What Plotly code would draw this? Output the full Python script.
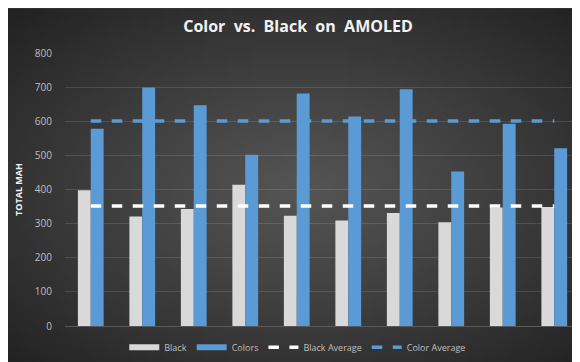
import base64
import struct
import zlib

import numpy as np
import plotly.graph_objects as go

categories = ["1", "2", "3", "4", "5", "6", "7", "8", "9", "10"]
black = [398, 321, 343, 414, 323, 309, 331, 304, 347, 349]
colors = [578, 699, 647, 502, 681, 614, 694, 453, 593, 521]
black_avg = [352] * len(categories)
color_avg = [601] * len(categories)
y_ticks = [0, 100, 200, 300, 400, 500, 600, 700, 800]


def radial_png(w, h, inner, outer):
    yy, xx = np.mgrid[0:h, 0:w]
    dx = (xx - w * 0.5) / (w * 0.5)
    dy = (yy - h * 0.5) / (h * 0.5)
    d = np.clip(np.sqrt(dx ** 2 + dy ** 2) / np.sqrt(2), 0, 1)
    v = (inner - (inner - outer) * d ** 1.1).astype(np.uint8)
    raw = b"".join(b"\x00" + bytes(np.stack([row, row, row], axis=1).flatten()) for row in v)

    def chunk(tag, data):
        c = struct.pack(">I", len(data)) + tag + data
        return c + struct.pack(">I", zlib.crc32(tag + data) & 0xFFFFFFFF)

    png = (b"\x89PNG\r\n\x1a\n" + chunk(b"IHDR", struct.pack(">IIBBBBB", w, h, 8, 2, 0, 0, 0))
           + chunk(b"IDAT", zlib.compress(raw, 9)) + chunk(b"IEND", b""))
    return "data:image/png;base64," + base64.b64encode(png).decode()


bg = radial_png(116, 72, 0x55, 0x22)

fig = go.Figure()
fig.add_trace(go.Bar(name="Black", x=categories, y=black, marker_color="#d9d9d9",
                     marker_line_width=0, showlegend=False))
fig.add_trace(go.Bar(name="Colors", x=categories, y=colors, marker_color="#5b9bd5",
                     marker_line_width=0, showlegend=False))
fig.add_trace(go.Scatter(name="Black Average", x=categories, y=black_avg, mode="lines",
                         line=dict(color="#ffffff", width=3.5, dash="dash"), showlegend=False))
fig.add_trace(go.Scatter(name="Color Average", x=categories, y=color_avg, mode="lines",
                         line=dict(color="#5b9bd5", width=3.5, dash="dash"), showlegend=False))
# legend entries
fig.add_trace(go.Scatter(name="Black", x=[None], y=[None], mode="lines",
                         line=dict(color="#d9d9d9", width=6)))
fig.add_trace(go.Scatter(name="Colors", x=[None], y=[None], mode="lines",
                         line=dict(color="#5b9bd5", width=6)))
fig.add_trace(go.Scatter(name="Black Average", x=[None], y=[None], mode="lines",
                         line=dict(color="#ffffff", width=3.5, dash="dash")))
fig.add_trace(go.Scatter(name="Color Average", x=[None], y=[None], mode="lines",
                         line=dict(color="#5b9bd5", width=3.5, dash="dash")))

fig.update_layout(
    width=580, height=362,
    paper_bgcolor="#383838", plot_bgcolor="rgba(0,0,0,0)",
    margin=dict(l=57, r=8, t=45, b=40),
    images=[dict(source=bg, xref="paper", yref="paper", x=-57 / 515, y=1 + 45 / 277,
                 sizex=580 / 515, sizey=362 / 277, xanchor="left", yanchor="top",
                 sizing="stretch", layer="below")],
    title=dict(text="<b>Color  vs.  Black  on  AMOLED</b>", x=0.5, xanchor="center",
               y=0.95, yanchor="middle",
               font=dict(family="Open Sans", size=16, color="#f2f2f2")),
    barmode="group", bargap=0.5, bargroupgap=0,
    showlegend=True,
    legend=dict(orientation="h", x=0.452, xanchor="center", y=-0.025, yanchor="top",
                font=dict(family="Open Sans", size=9, color="#bfbfbf"),
                bgcolor="rgba(0,0,0,0)", itemwidth=30, tracegroupgap=0),
    font=dict(family="Open Sans", color="#bfbfbf"),
)
fig.update_xaxes(showticklabels=False, showgrid=False, zeroline=False,
                 showline=True, linecolor="#5a5a5a", linewidth=1, ticks="")
fig.update_yaxes(range=[0, 800], tickvals=y_ticks, showgrid=True, gridcolor="rgba(255,255,255,0.12)",
                 gridwidth=1, zeroline=False, showline=False,
                 tickfont=dict(family="Open Sans", size=10, color="#bfbfbf"),
                 ticklabelstandoff=12,
                 title=dict(text="<b>TOTAL MAH</b>", standoff=10,
                            font=dict(family="Open Sans", size=9, color="#f2f2f2")))

fig.write_html("out.html")
